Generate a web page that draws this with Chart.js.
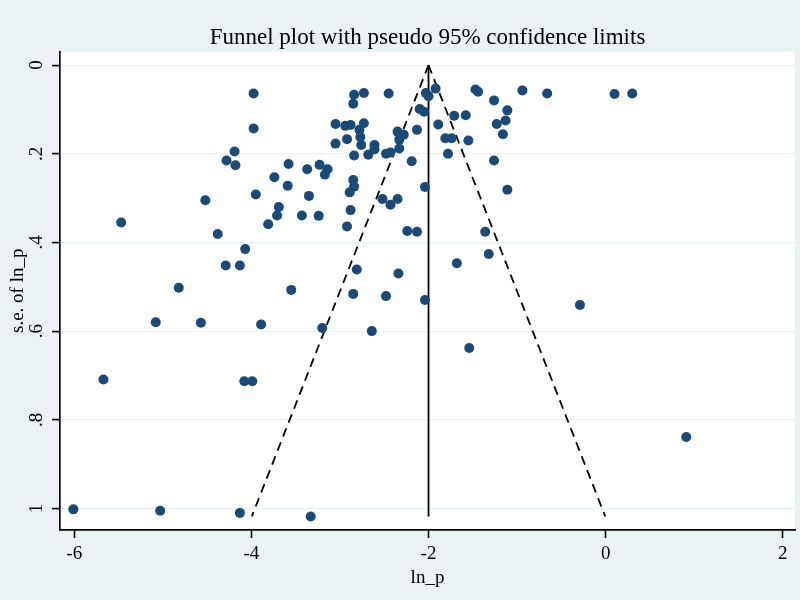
<!DOCTYPE html>
<html>
<head>
<meta charset="utf-8">
<script src="https://cdn.jsdelivr.net/npm/chart.js@4.4.1/dist/chart.umd.min.js"></script>
<style>
  html, body { margin: 0; padding: 0; background: #eaf2f3; }
</style>
</head>
<body>
<canvas id="grafica" width="800" height="600"></canvas>
<script>
// estudios: ln_p y su error estandar
const lnP = [
  -3.975, -3.975, -2.84, -2.73, -2.85, -2.45, -2.03, -1.92, -2.0, -2.10,
  -2.05, -1.89, -3.05, -2.94, -2.88, -2.73, -2.78, -2.77, -2.76, -3.05,
  -2.92, -2.35, -2.28, -2.33, -2.33, -2.13, -2.61, -2.61, -2.68, -2.84,
  -2.48, -2.43, -2.19, -2.04, -4.19, -4.28, -4.18, -3.58, -3.37, -3.23,
  -3.14, -3.17, -3.74, -3.59, -3.35, -3.95, -2.85, -2.84, -2.89, -2.88,
  -2.92, -4.52, -3.69, -3.71, -3.43, -3.24, -3.81, -2.52, -2.35, -2.43,
  -2.24, -2.13, -5.47, -4.38, -4.07, -4.29, -4.13, -2.81, -2.34, -4.82,
  -3.55, -2.85, -2.48, -2.04,
  -1.47, -1.44, -0.94, -0.66, 0.10, 0.30, -1.26, -1.11, -1.13, -1.23,
  -1.16, -1.71, -1.58, -1.81, -1.74, -1.55, -1.78, -1.26, -1.11, -1.36,
  -1.32, -1.68,
  -5.08, -4.57, -3.89, -3.20, -2.64, -5.67, -4.08, -3.99, -6.01, -5.03,
  -4.13, -3.33,
  -1.54, -0.29, 0.91
];
const seLnP = [
  0.064, 0.143, 0.067, 0.063, 0.087, 0.064, 0.063, 0.053, 0.070, 0.099,
  0.105, 0.134, 0.133, 0.137, 0.135, 0.131, 0.146, 0.162, 0.180, 0.177,
  0.167, 0.150, 0.157, 0.168, 0.188, 0.146, 0.180, 0.190, 0.202, 0.204,
  0.200, 0.197, 0.217, 0.275, 0.195, 0.215, 0.226, 0.223, 0.235, 0.225,
  0.235, 0.247, 0.253, 0.272, 0.295, 0.292, 0.259, 0.274, 0.287, 0.327,
  0.364, 0.305, 0.320, 0.339, 0.339, 0.340, 0.359, 0.302, 0.302, 0.315,
  0.374, 0.376, 0.355, 0.381, 0.415, 0.452, 0.452, 0.461, 0.470, 0.502,
  0.507, 0.516, 0.521, 0.530,
  0.055, 0.060, 0.057, 0.064, 0.065, 0.064, 0.080, 0.102, 0.125, 0.133,
  0.156, 0.114, 0.113, 0.165, 0.165, 0.170, 0.200, 0.215, 0.281, 0.376,
  0.426, 0.447,
  0.580, 0.581, 0.585, 0.593, 0.600, 0.709, 0.713, 0.713, 1.002, 1.005,
  1.010, 1.018,
  0.638, 0.541, 0.839
];

const pooled = -2.0;
const xTicks = [-6, -4, -2, 0, 2];
const yTicks = [0, 0.2, 0.4, 0.6, 0.8, 1];
const yTickLabels = ["0", ".2", ".4", ".6", ".8", "1"];

const maxSe = Math.max(...seLnP);
const puntos = lnP.map((v, i) => ({ x: v, y: seLnP[i] }));

const serif = "'Liberation Serif', 'Times New Roman', serif";

const fondo = {
  id: "fondo",
  beforeDraw(chart) {
    const { ctx, chartArea: a } = chart;
    ctx.save();
    ctx.fillStyle = "#eaf2f3";
    ctx.fillRect(0, 0, chart.width, chart.height);
    ctx.fillStyle = "#ffffff";
    ctx.fillRect(a.left, a.top, a.right - a.left, a.bottom - a.top);
    ctx.restore();
  }
};

const ctx = document.getElementById("grafica").getContext("2d");
new Chart(ctx, {
  type: "scatter",
  data: {
    datasets: [
      {
        data: puntos,
        backgroundColor: "#1a4a78",
        borderWidth: 0,
        pointRadius: 5
      },
      {
        data: [{ x: pooled, y: 0 }, { x: pooled - 1.96 * maxSe, y: maxSe }],
        showLine: true,
        borderColor: "#000",
        borderWidth: 1.8,
        borderDash: [9, 6],
        pointRadius: 0
      },
      {
        data: [{ x: pooled, y: 0 }, { x: pooled + 1.96 * maxSe, y: maxSe }],
        showLine: true,
        borderColor: "#000",
        borderWidth: 1.8,
        borderDash: [9, 6],
        pointRadius: 0
      },
      {
        data: [{ x: pooled, y: 0 }, { x: pooled, y: maxSe }],
        showLine: true,
        borderColor: "#000",
        borderWidth: 1.8,
        pointRadius: 0
      }
    ]
  },
  options: {
    responsive: false,
    animation: false,
    layout: { padding: { left: 0, right: 2, top: 0, bottom: 0 } },
    plugins: {
      legend: { display: false },
      tooltip: { enabled: false },
      title: {
        display: true,
        fullSize: false,
        text: "Funnel plot with pseudo 95% confidence limits",
        color: "#000",
        font: { family: serif, size: 23, weight: "normal" },
        padding: { top: 24, bottom: 0 }
      }
    },
    scales: {
      x: {
        type: "linear",
        min: -6.161,
        max: 2.138,
        afterBuildTicks: s => { s.ticks = xTicks.map(v => ({ value: v })); },
        afterFit: s => { s.height = 70; },
        ticks: {
          maxRotation: 0,
          padding: 5,
          color: "#000",
          font: { family: serif, size: 19 },
          callback: v => String(v)
        },
        grid: { drawOnChartArea: false, tickColor: "#000", tickLength: 8, tickWidth: 1.6 },
        border: { color: "#000", width: 1.7 },
        title: {
          display: true,
          text: "ln_p",
          color: "#000",
          font: { family: serif, size: 19 },
          padding: { top: 0, bottom: 11 }
        }
      },
      y: {
        type: "linear",
        reverse: true,
        min: -0.0305,
        max: 1.0486,
        afterBuildTicks: s => { s.ticks = yTicks.map(v => ({ value: v })); },
        afterFit: s => { s.width = 60; },
        ticks: {
          minRotation: 90,
          maxRotation: 90,
          crossAlign: "center",
          padding: 8,
          color: "#000",
          font: { family: serif, size: 19 },
          callback: (v, i) => yTickLabels[i]
        },
        grid: { color: "#eaf2f3", lineWidth: 1.2, tickColor: "#000", tickLength: 8, tickWidth: 1.6 },
        border: { color: "#000", width: 1.7 },
        title: {
          display: true,
          text: "s.e. of ln_p",
          color: "#000",
          font: { family: serif, size: 19 },
          padding: { top: 7, bottom: 0 }
        }
      }
    }
  },
  plugins: [fondo]
});
</script>
</body>
</html>
